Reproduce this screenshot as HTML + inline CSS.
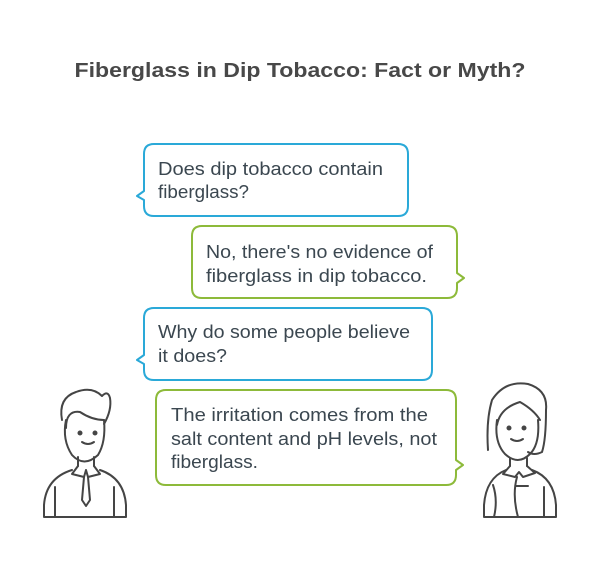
<!DOCTYPE html>
<html><head><meta charset="utf-8"><style>
html,body{margin:0;padding:0;background:#fff;}
svg{display:block;}
text{font-family:"Liberation Sans",Arial,sans-serif;}
</style></head><body>
<svg width="600" height="570" viewBox="0 0 600 570" xmlns="http://www.w3.org/2000/svg">
<text x="300" y="77" text-anchor="middle" font-size="20.5" font-weight="bold" fill="#484848" textLength="451" lengthAdjust="spacingAndGlyphs">Fiberglass in Dip Tobacco: Fact or Myth?</text>

<g fill="#fff" stroke-width="2" stroke-linejoin="round">
<path stroke="#2aa9d8" d="M154,144 H398 Q408,144 408,154 V206 Q408,216 398,216 H154 Q144,216 144,206 V200 L137,196 L144,191 V154 Q144,144 154,144 Z"/>
<path stroke="#8dba3a" d="M202,226 H447 Q457,226 457,236 V273 L464,278 L457,283 V288 Q457,298 447,298 H202 Q192,298 192,288 V236 Q192,226 202,226 Z"/>
<path stroke="#2aa9d8" d="M154,308 H422 Q432,308 432,318 V370 Q432,380 422,380 H154 Q144,380 144,370 V364 L137,360 L144,355 V318 Q144,308 154,308 Z"/>
<path stroke="#8dba3a" d="M166,390 H446 Q456,390 456,400 V460 L463,465 L456,470 V475 Q456,485 446,485 H166 Q156,485 156,475 V400 Q156,390 166,390 Z"/>
</g>

<g font-size="18" fill="#3b4750" lengthAdjust="spacingAndGlyphs">
<text x="158" y="175" textLength="225" lengthAdjust="spacingAndGlyphs">Does dip tobacco contain</text>
<text x="158" y="198" textLength="91" lengthAdjust="spacingAndGlyphs">fiberglass?</text>
<text x="206" y="258" textLength="227" lengthAdjust="spacingAndGlyphs">No, there's no evidence of</text>
<text x="206" y="282" textLength="221" lengthAdjust="spacingAndGlyphs">fiberglass in dip tobacco.</text>
<text x="158" y="338" textLength="252" lengthAdjust="spacingAndGlyphs">Why do some people believe</text>
<text x="158" y="362" textLength="69" lengthAdjust="spacingAndGlyphs">it does?</text>
<text x="171" y="421" textLength="257" lengthAdjust="spacingAndGlyphs">The irritation comes from the</text>
<text x="171" y="445" textLength="266" lengthAdjust="spacingAndGlyphs">salt content and pH levels, not</text>
<text x="171" y="468" textLength="87" lengthAdjust="spacingAndGlyphs">fiberglass.</text>
</g>

<g fill="none" stroke="#454545" stroke-width="2" stroke-linecap="round" stroke-linejoin="round">
<!-- man -->
<path d="M62,420 Q58,398 76,392 Q92,386 102,396 Q108,390 110,398 Q112,410 104,424"/>
<path d="M66,428 Q66,410 80,412 Q92,420 104,420"/>
<path d="M66,420 Q62,440 72,455 Q84,468 98,455 Q106,442 104,420"/>
<path d="M78,457 V466 M94,457 V466"/>
<path d="M78,466 L72,474 L84,477 L86,470 L88,477 L100,474 L94,466"/>
<path d="M84,477 L82,500 L86,506 L90,500 L88,477"/>
<path d="M72,470 Q46,478 44,505 V517 H126 V505 Q124,478 100,470"/>
<path d="M55,487 V516 M114,487 V516"/>
<circle cx="80" cy="433" r="1.5" fill="#454545"/><circle cx="95" cy="433" r="1.5" fill="#454545"/>
<path d="M82,442 Q88,446 94,442"/>
<!-- woman -->
<path d="M488,450 Q486,420 492,400 Q505,380 528,384 Q548,390 546,410 Q546,440 542,452 Q534,456 528,452"/>
<path d="M497,425 Q500,408 520,402 Q534,410 540,420"/>
<path d="M497,420 Q494,442 505,454 Q518,466 530,454 Q540,444 538,420"/>
<path d="M510,458 V466 M527,458 V466"/>
<path d="M510,466 L503,474 L515,477 L519,472 L523,477 L535,473 L527,466"/>
<path d="M506,470 Q486,478 484,505 V517 H556 V505 Q554,478 532,470"/>
<path d="M517,477 Q512,495 518,517 M493,485 Q498,500 494,517 M544,487 V516 M516,486 H528"/>
<circle cx="509" cy="428" r="1.5" fill="#454545"/><circle cx="524" cy="428" r="1.5" fill="#454545"/>
<path d="M511,439 Q517,443 523,439"/>
</g>
</svg>
</body></html>
